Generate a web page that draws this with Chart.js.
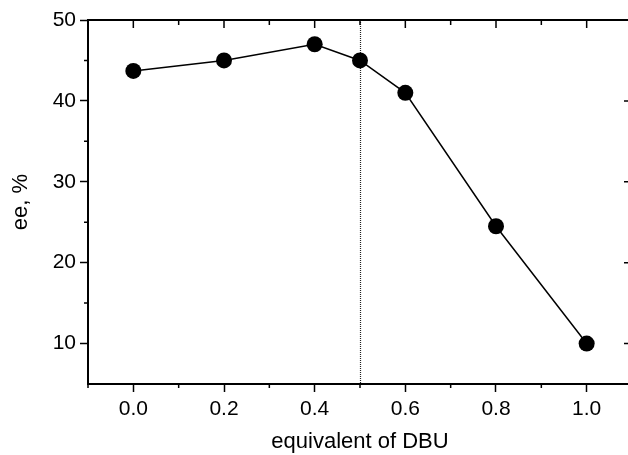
<!DOCTYPE html>
<html>
<head>
<meta charset="utf-8">
<script src="https://cdn.jsdelivr.net/npm/chart.js@4/dist/chart.umd.min.js"></script>
<style>
  html, body { margin: 0; padding: 0; background: #fff; overflow: hidden; }
  #wrap { width: 628px; height: 455px; overflow: hidden; }
</style>
</head>
<body>
<div id="wrap"><canvas id="c" width="640" height="455"></canvas></div>
<script>
// data
const dbu = [0.0, 0.2, 0.4, 0.5, 0.6, 0.8, 1.0];
const ee = [43.7, 45.0, 47.0, 45.0, 41.0, 24.5, 10.0];
const xTicks = [0.0, 0.2, 0.4, 0.6, 0.8, 1.0];
const xMinor = [-0.1, 0.1, 0.3, 0.5, 0.7, 0.9, 1.1];
const yTicks = [10, 20, 30, 40, 50];
const yMinor = [15, 25, 35, 45];
const markerX = 0.5;

const FONT = 'Liberation Sans, Arial, Helvetica, sans-serif';

// dotted line at 0.5 eq + top/right frame and minor ticks
const extras = {
  id: 'extras',
  beforeDatasetsDraw(chart) {
    const { ctx, chartArea: a, scales: { x } } = chart;
    const px = Math.round(x.getPixelForValue(markerX)) + 0.5;
    ctx.save();
    ctx.strokeStyle = '#222';
    ctx.lineWidth = 1.2;
    ctx.setLineDash([1, 1]);
    ctx.beginPath();
    ctx.moveTo(px, a.top);
    ctx.lineTo(px, a.bottom);
    ctx.stroke();
    ctx.restore();
  },
  afterDraw(chart) {
    const { ctx, chartArea: a, scales: { x, y } } = chart;
    ctx.save();
    ctx.strokeStyle = '#000';
    ctx.lineWidth = 2;
    ctx.beginPath();
    ctx.moveTo(a.left, a.top);
    ctx.lineTo(a.right, a.top);
    ctx.lineTo(a.right, a.bottom);
    ctx.stroke();
    ctx.lineWidth = 1.5;
    ctx.beginPath();
    xTicks.forEach(v => {
      const px = x.getPixelForValue(v);
      ctx.moveTo(px, a.top); ctx.lineTo(px, a.top + 8);
    });
    xMinor.forEach(v => {
      const px = x.getPixelForValue(v);
      ctx.moveTo(px, a.bottom); ctx.lineTo(px, a.bottom + 4);
      ctx.moveTo(px, a.top); ctx.lineTo(px, a.top + 5);
    });
    yTicks.forEach(v => {
      const py = y.getPixelForValue(v);
      ctx.moveTo(a.right, py); ctx.lineTo(a.right - 8, py);
    });
    yMinor.forEach(v => {
      const py = y.getPixelForValue(v);
      ctx.moveTo(a.left, py); ctx.lineTo(a.left - 4, py);
      ctx.moveTo(a.right, py); ctx.lineTo(a.right - 4, py);
    });
    ctx.stroke();
    ctx.restore();
  }
};

new Chart(document.getElementById('c').getContext('2d'), {
  type: 'line',
  data: {
    datasets: [{
      data: dbu.map((v, i) => ({ x: v, y: ee[i] })),
      borderColor: '#000',
      borderWidth: 1.5,
      backgroundColor: '#000',
      pointRadius: 8,
      pointBackgroundColor: '#000',
      pointBorderWidth: 0,
      tension: 0
    }]
  },
  options: {
    responsive: false,
    animation: false,
    layout: { padding: { left: 0, top: 20, right: 8, bottom: 0 } },
    plugins: { legend: { display: false }, tooltip: { enabled: false } },
    scales: {
      x: {
        type: 'linear',
        min: -0.1, max: 1.1,
        afterBuildTicks: s => { s.ticks = xTicks.map(v => ({ value: v })); },
        afterFit: s => { s.height = 71; },
        border: { display: true, color: '#000', width: 2 },
        grid: { display: true, drawOnChartArea: false, drawTicks: true, tickLength: 8, tickColor: '#000', tickWidth: 1.5 },
        ticks: {
          color: '#000', padding: 5, maxRotation: 0,
          font: { family: FONT, size: 21 },
          callback: v => v.toFixed(1)
        },
        title: {
          display: true, text: 'equivalent of DBU', color: '#000',
          font: { family: FONT, size: 22 }, padding: { top: 0, bottom: 0 }
        }
      },
      y: {
        type: 'linear',
        min: 5, max: 50,
        afterBuildTicks: s => { s.ticks = yTicks.map(v => ({ value: v })); },
        afterFit: s => { s.width = 88; },
        border: { display: true, color: '#000', width: 2 },
        grid: { display: true, drawOnChartArea: false, drawTicks: true, tickLength: 8, tickColor: '#000', tickWidth: 1.5 },
        ticks: {
          color: '#000', padding: 4,
          font: { family: FONT, size: 21 }
        },
        title: {
          display: true, text: 'ee, %', color: '#000',
          font: { family: FONT, size: 22 }, padding: { top: 8, bottom: 0 }
        }
      }
    }
  },
  plugins: [extras]
});
</script>
</body>
</html>
